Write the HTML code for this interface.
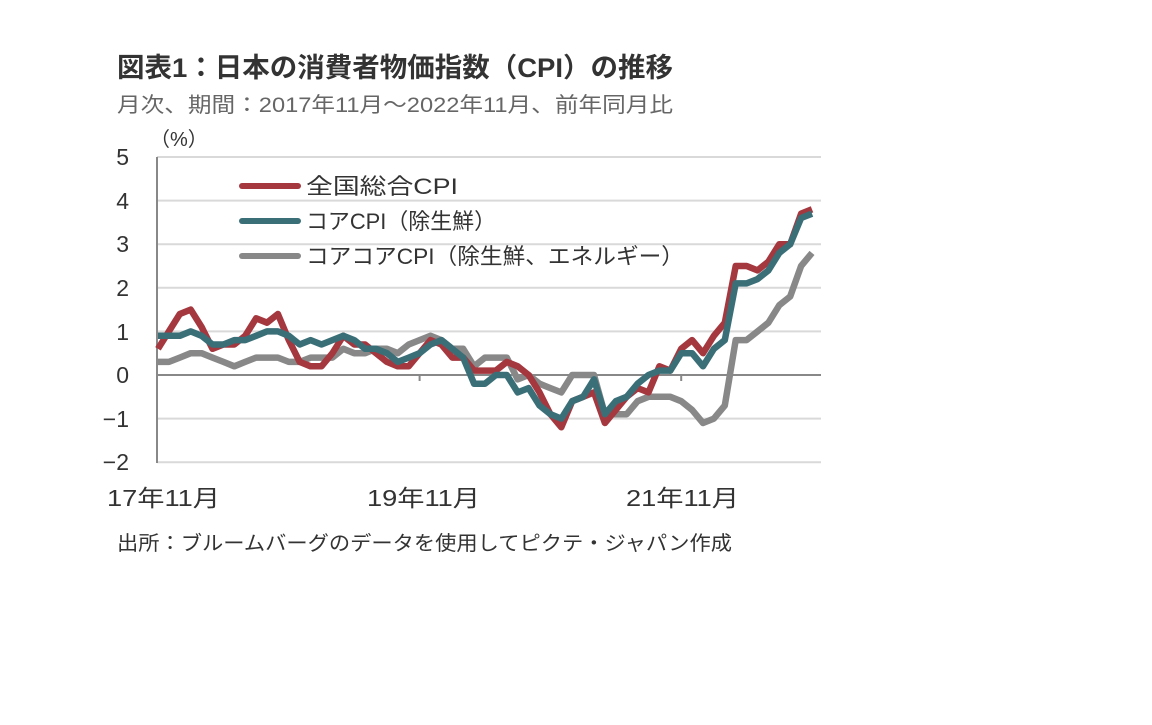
<!DOCTYPE html>
<html><head><meta charset="utf-8"><style>
body{margin:0;background:#fff;width:1152px;height:720px;overflow:hidden;font-family:"Liberation Sans","Noto Sans CJK JP",sans-serif}
</style></head><body>
<svg id="s" width="1152" height="720" xmlns="http://www.w3.org/2000/svg" font-family="Liberation Sans, Noto Sans CJK JP, sans-serif">
<text x="117" y="77" font-size="27" font-weight="bold" fill="#333" textLength="556" lengthAdjust="spacingAndGlyphs">図表1：日本の消費者物価指数（CPI）の推移</text>
<text x="117" y="112" font-size="21" fill="#666" textLength="556" lengthAdjust="spacingAndGlyphs">月次、期間：2017年11月～2022年11月、前年同月比</text>
<text x="150" y="146" font-size="20" fill="#333">（%）</text>
<g id="grid"></g>
<g font-size="23" fill="#333" text-anchor="end">
<text x="129" y="165">5</text><text x="129" y="209">4</text><text x="129" y="252">3</text><text x="129" y="296">2</text><text x="129" y="340">1</text><text x="129" y="383">0</text><text x="129" y="427">−1</text><text x="129" y="470">−2</text>
</g>
<g font-size="23" fill="#333">
<text x="107" y="506" textLength="113" lengthAdjust="spacingAndGlyphs">17年11月</text><text x="367" y="506" textLength="113" lengthAdjust="spacingAndGlyphs">19年11月</text><text x="626" y="506" textLength="113" lengthAdjust="spacingAndGlyphs">21年11月</text>
</g>
<g id="lines"></g>
<g stroke-width="6" stroke-linecap="round">
<line x1="242" y1="186" x2="298" y2="186" stroke="#a5373f"/>
<line x1="242" y1="221" x2="298" y2="221" stroke="#3a6f78"/>
<line x1="242" y1="256" x2="298" y2="256" stroke="#888"/>
</g>
<g font-size="22" fill="#333">
<text x="306" y="194" textLength="152" lengthAdjust="spacingAndGlyphs">全国総合CPI</text>
<text x="306" y="229" textLength="190" lengthAdjust="spacingAndGlyphs">コアCPI（除生鮮）</text>
<text x="306" y="264" textLength="378" lengthAdjust="spacingAndGlyphs">コアコアCPI（除生鮮、エネルギー）</text>
</g>
<text x="117" y="550" font-size="20" fill="#333" textLength="615" lengthAdjust="spacingAndGlyphs">出所：ブルームバーグのデータを使用してピクテ・ジャパン作成</text>
</svg>
<script>
var ns="http://www.w3.org/2000/svg";
function el(p,t,a){var e=document.createElementNS(ns,t);for(var k in a)e.setAttribute(k,a[k]);document.getElementById(p).appendChild(e);}
for(var v=-2;v<=5;v++){var y=375-43.6*v;el("grid","line",{x1:157,x2:821,y1:y,y2:y,stroke:v==0?"#888":"#d9d9d9","stroke-width":2});}
el("grid","line",{x1:157,x2:157,y1:157,y2:463,stroke:"#888","stroke-width":2});
for(var i=1;i<=2;i++){var x=158+10.9*24*i;el("grid","line",{x1:x,x2:x,y1:375,y2:381,stroke:"#888","stroke-width":2});}
var red=[0.6,1.0,1.4,1.5,1.1,0.6,0.7,0.7,0.9,1.3,1.2,1.4,0.8,0.3,0.2,0.2,0.5,0.9,0.7,0.7,0.5,0.3,0.2,0.2,0.5,0.8,0.7,0.4,0.4,0.1,0.1,0.1,0.3,0.2,0.0,-0.4,-0.9,-1.2,-0.6,-0.5,-0.4,-1.1,-0.8,-0.5,-0.3,-0.4,0.2,0.1,0.6,0.8,0.5,0.9,1.2,2.5,2.5,2.4,2.6,3.0,3.0,3.7,3.8];
var core=[0.9,0.9,0.9,1.0,0.9,0.7,0.7,0.8,0.8,0.9,1.0,1.0,0.9,0.7,0.8,0.7,0.8,0.9,0.8,0.6,0.6,0.5,0.3,0.4,0.5,0.7,0.8,0.6,0.4,-0.2,-0.2,0.0,0.0,-0.4,-0.3,-0.7,-0.9,-1.0,-0.6,-0.5,-0.1,-0.9,-0.6,-0.5,-0.2,0.0,0.1,0.1,0.5,0.5,0.2,0.6,0.8,2.1,2.1,2.2,2.4,2.8,3.0,3.6,3.7];
var cc=[0.3,0.3,0.4,0.5,0.5,0.4,0.3,0.2,0.3,0.4,0.4,0.4,0.3,0.3,0.4,0.4,0.4,0.6,0.5,0.5,0.6,0.6,0.5,0.7,0.8,0.9,0.8,0.6,0.6,0.2,0.4,0.4,0.4,-0.1,0.0,-0.2,-0.3,-0.4,0.0,0.0,0.0,-0.9,-0.9,-0.9,-0.6,-0.5,-0.5,-0.5,-0.6,-0.8,-1.1,-1.0,-0.7,0.8,0.8,1.0,1.2,1.6,1.8,2.5,2.8];
function pl(d,c){el("lines","polyline",{points:d.map(function(v,i){return (158+10.9*i).toFixed(1)+","+(375-43.6*v).toFixed(1)}).join(" "),fill:"none",stroke:c,"stroke-width":6.5,"stroke-linejoin":"round"});}
pl(cc,"#888");pl(red,"#a5373f");pl(core,"#3a6f78");
</script>
</body></html>
